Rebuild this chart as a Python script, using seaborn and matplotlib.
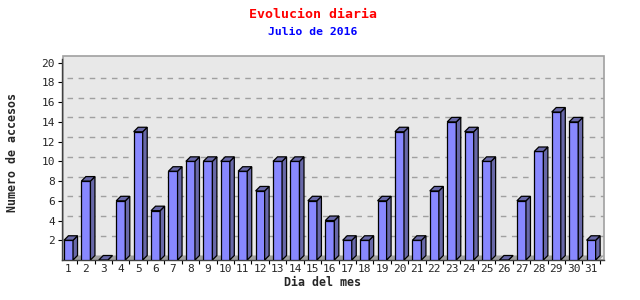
import numpy as np
import pandas as pd
import matplotlib
matplotlib.use("Agg")
import matplotlib.pyplot as plt
import seaborn as sns
from matplotlib.patches import Polygon
from matplotlib.lines import Line2D
from matplotlib.transforms import IdentityTransform

# ---- data ----
dias = [str(d) for d in range(1, 32)]
accesos = [2, 8, 0, 6, 13, 5, 9, 10, 10, 10, 9, 7, 10, 10, 6, 4, 2, 2, 6, 13,
           2, 7, 14, 13, 10, 0, 6, 11, 15, 14, 2]
yticks = [2, 4, 6, 8, 10, 12, 14, 16, 18, 20]
titulo = "Evolucion diaria"
subtitulo = "Julio de 2016"
xlabel = "Dia del mes"
ylabel = "Numero de accesos"

df = pd.DataFrame({"dia": dias, "accesos": accesos})

sns.set_style("white")
plt.rcParams["font.family"] = ["DejaVu Sans Mono", "DejaVu Sans"]

W, H = 640, 300
fig = plt.figure(figsize=(6.4, 3.0), dpi=100)
fig.patch.set_facecolor("white")

# front plane of the plot, in pixels
L, R, B, T = 62, 604, 260, 55.7
ax = fig.add_axes([L / W, (H - B) / H, (R - L) / W, (B - T) / H])
ax.set_facecolor("none")

sns.barplot(data=df, x="dia", y="accesos", color="#8888ff", saturation=1,
            edgecolor="black", linewidth=0.9, width=0.52, ax=ax, zorder=5)

ax.set_xlim(-0.373, 30.74)
ax.set_ylim(0, 20.71)

D = 4.5  # depth in pixels
fig.canvas.draw()
tr = ax.transData

def px(x, y):
    return tr.transform((x, y))

# back wall
x0p, y0p = px(ax.get_xlim()[0], 0)
x1p, ytp = tr.transform((ax.get_xlim()[1], ax.get_ylim()[1]))
wall = Polygon([(x0p + 1.5, y0p), (x1p, y0p), (x1p, ytp), (x0p + 1.5, ytp)],
               closed=True, facecolor="#e8e8e8", edgecolor="#a0a0a0",
               linewidth=1.2, transform=IdentityTransform(), clip_on=False,
               zorder=0)
ax.add_patch(wall)

# floor
floor = Polygon([(x0p, y0p), (x1p - D, y0p), (x1p, y0p + D), (x0p + D, y0p + D)],
                closed=True, facecolor="#a0a0a0", edgecolor="none",
                transform=IdentityTransform(), clip_on=False, zorder=1)
ax.add_patch(floor)

# grid lines (on back wall)
for yv in yticks[:-1]:
    gx, gy = px(0, yv)
    ax.add_line(Line2D([x0p + D, x1p], [gy + D, gy + D], color="#a0a0a0",
                       linestyle=(0, (4, 4)), linewidth=1.0,
                       transform=IdentityTransform(), zorder=2))

# 3D sides and tops of bars
for p in ax.patches:
    if not hasattr(p, "get_width") or p in (wall, floor):
        continue
    try:
        bx, bw, bh = p.get_x(), p.get_width(), p.get_height()
    except AttributeError:
        continue
    (ax0, ay0) = px(bx, 0)
    (ax1, ay1) = px(bx + bw, bh)
    side = Polygon([(ax1, ay0), (ax1, ay1), (ax1 + D, ay1 + D), (ax1 + D, ay0 + D)],
                   closed=True, facecolor="#6868a8", edgecolor="black",
                   linewidth=0.9, transform=IdentityTransform(), zorder=6)
    top = Polygon([(ax0, ay1), (ax1, ay1), (ax1 + D, ay1 + D), (ax0 + D, ay1 + D)],
                  closed=True, facecolor="#6868a8", edgecolor="black",
                  linewidth=0.9, transform=IdentityTransform(), zorder=6)
    ax.add_patch(side)
    ax.add_patch(top)

for s in ["top", "right"]:
    ax.spines[s].set_visible(False)
ax.spines["left"].set_color("#404040")
ax.spines["bottom"].set_color("#404040")
ax.spines["left"].set_linewidth(1.0)
ax.spines["bottom"].set_linewidth(1.0)
ax.spines["left"].set_bounds(0, 20.4)

ax.set_yticks(yticks)
ax.set_yticklabels([str(v) for v in yticks])
ax.set_xticks(range(len(dias)))
ax.set_xticklabels(dias)
ax.set_xticks([i + 0.5 for i in range(len(dias))], minor=True)
ax.tick_params(axis="y", length=3, width=0.8, color="black", pad=2,
               labelsize=8, left=True)
ax.tick_params(axis="x", which="major", length=0, pad=3, labelsize=8)
ax.tick_params(axis="x", which="minor", length=3, width=0.8, color="black",
               bottom=True)
ax.set_xlabel("")
ax.set_ylabel("")

fig.text(313 / W, 1 - 14 / H, titulo, color="red", fontsize=9.5,
         fontweight="bold", ha="center", va="center")
fig.text(313 / W, 1 - 32 / H, subtitulo, color="blue", fontsize=8.2,
         fontweight="bold", ha="center", va="center")
fig.text(13 / W, 1 - 152 / H, ylabel, rotation=90, fontsize=8.4,
         fontweight="bold", ha="center", va="center")
fig.text(323 / W, 1 - 282 / H, xlabel, fontsize=8.4,
         fontweight="bold", ha="center", va="center")

fig.savefig("out.png", dpi=100)
